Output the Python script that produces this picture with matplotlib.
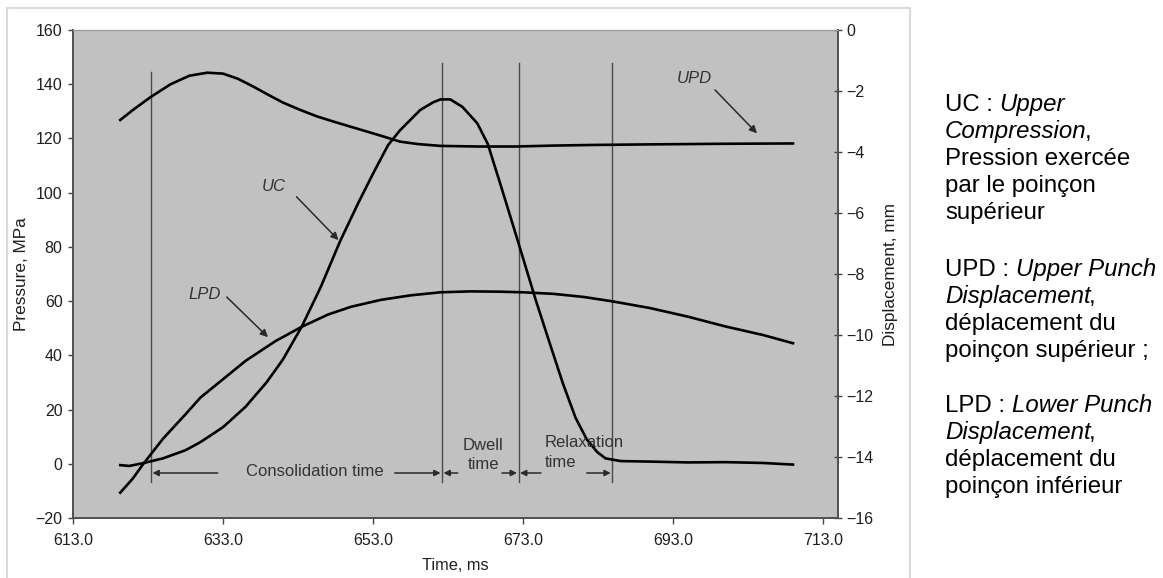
import matplotlib
matplotlib.use("Agg")
import matplotlib.pyplot as plt
from matplotlib.patches import Rectangle

plt.rcParams['font.family'] = ['Liberation Sans', 'DejaVu Sans']

# --- data ---
# UC : upper compression (pressure, MPa, left axis)
uc_time = [619.3, 620.5, 622.3, 625, 628, 630, 633, 636, 638.8, 641, 643.5, 646,
           648.6, 651, 653, 655, 656.6, 659.3, 661, 662, 663.3, 664.9, 666.9,
           668.3, 670, 672, 674.7, 676.5, 678.3, 680, 681.5, 682.9, 684, 686,
           690, 695, 700, 705, 709]
uc_pressure = [-0.5, -0.8, 0.2, 2.0, 5.0, 8.0, 13.5, 21, 30, 38.5, 50.6, 65,
               82, 96, 107, 117.5, 123, 130.5, 133.3, 134.4, 134.4, 131.7, 125.6,
               118, 103, 85, 60.4, 45, 29.8, 17, 9, 4.3, 2.0, 1.0,
               0.8, 0.5, 0.6, 0.3, -0.3]

# LPD : lower punch displacement (mm, right axis)
lpd_time = [619.3, 621, 622.3, 625, 628, 630, 633, 636, 640, 643.5, 647, 650,
            654, 658, 662, 666, 670, 673, 677, 681, 685, 690, 695, 700, 705, 709]
lpd_disp = [-15.17, -14.7, -14.25, -13.4, -12.6, -12.05, -11.45, -10.85, -10.2,
            -9.73, -9.33, -9.08, -8.85, -8.7, -8.6, -8.57, -8.58, -8.6, -8.65,
            -8.75, -8.9, -9.12, -9.4, -9.72, -10.0, -10.27]

# UPD : upper punch displacement (mm, right axis)
upd_time = [619.3, 621, 623.4, 626, 628.5, 630.9, 633, 635, 637, 639, 641, 643.3,
            645.5, 647.7, 650, 652.2, 654.5, 656.6, 659, 662, 667, 672, 677, 682,
            690, 700, 709]
upd_disp = [-2.95, -2.62, -2.19, -1.78, -1.5, -1.40, -1.43, -1.6, -1.85, -2.12,
            -2.38, -2.62, -2.83, -3.0, -3.17, -3.33, -3.5, -3.66, -3.74, -3.8,
            -3.82, -3.82, -3.79, -3.77, -3.75, -3.73, -3.72]

# phase boundaries (ms)
boundaries = [623.4, 662.2, 672.4, 684.9]
boundary_tops = [144.5, 147.8, 147.8, 147.8]

x_ticks = [613, 633, 653, 673, 693, 713]
p_ticks = list(range(-20, 161, 20))
d_ticks = list(range(-16, 1, 2))

legend_lines = [
    [("UC : ", "normal"), ("Upper", "italic")],
    [("Compression", "italic"), (",", "normal")],
    [("Pression exercée", "normal")],
    [("par le poinçon", "normal")],
    [("supérieur", "normal")],
    [("UPD : ", "normal"), ("Upper Punch", "italic")],
    [("Displacement", "italic"), (",", "normal")],
    [("déplacement du", "normal")],
    [("poinçon supérieur ;", "normal")],
    [("LPD : ", "normal"), ("Lower Punch", "italic")],
    [("Displacement", "italic"), (",", "normal")],
    [("déplacement du", "normal")],
    [("poinçon inférieur", "normal")],
]
legend_baselines = [111, 138, 165, 192, 219, 276, 303, 330, 357, 412, 439, 466, 493]

W, H = 1163, 578
fig = plt.figure(figsize=(W / 100, H / 100), dpi=100)
fig.patch.set_facecolor('white')

# light frame of the original scanned picture
fig.add_artist(Rectangle((7 / W, -0.02), (910 - 7) / W, 1.02 - 8 / H,
                         transform=fig.transFigure, fill=False,
                         edgecolor='#dadada', lw=1.5))

ax = fig.add_axes([73 / W, 60 / H, 765 / W, 488 / H])
ax.set_facecolor('#c1c1c1')
ax2 = ax.twinx()

ink = '#1e1e1e'
grey = '#333333'

ax.plot(uc_time, uc_pressure, color='black', lw=1.9, zorder=3)
ax2.plot(lpd_time, lpd_disp, color='black', lw=1.9)
ax2.plot(upd_time, upd_disp, color='black', lw=1.9)

for xb, top in zip(boundaries, boundary_tops):
    ax.plot([xb, xb], [-6.7, top], color='#4a4a4a', lw=1.0, zorder=2)

ax.set_xlim(613, 715)
ax.set_ylim(-20, 160)
ax2.set_ylim(-16, 0)
ax.set_xticks(x_ticks)
ax.set_xticklabels([f"{v:.1f}" for v in x_ticks])
ax.set_yticks(p_ticks)
ax2.set_yticks(d_ticks)

ax.tick_params(axis='x', direction='out', length=4, width=1, pad=7,
               labelsize=11.5, colors='#444444', labelcolor=ink)
ax.tick_params(axis='y', direction='out', length=3.5, width=1, pad=4,
               labelsize=11.5, colors='#444444', labelcolor=ink)
ax2.tick_params(axis='y', direction='inout', length=6, width=1, pad=3,
                labelsize=11.5, colors='#444444', labelcolor=ink)

for a in (ax, ax2):
    for side in ('left', 'bottom', 'right'):
        a.spines[side].set_color('#505050')
        a.spines[side].set_linewidth(1.2)
    a.spines['top'].set_color('#9a9a9a')
    a.spines['top'].set_linewidth(0.8)

ax.set_ylabel("Pressure, MPa", fontsize=12.4, color=ink)
ax.yaxis.label.set_va('center')
ax.yaxis.set_label_coords((22 - 73) / 765, 0.5)
ax2.set_ylabel("Displacement, mm", fontsize=12.4, color=ink)
ax2.yaxis.label.set_va('center')
ax2.yaxis.set_label_coords((890 - 73) / 765, 0.5)
ax.set_xlabel("Time, ms", fontsize=11.8, color=ink)
ax.xaxis.label.set_va('center')
ax.xaxis.set_label_coords((455 - 73) / 765, (518 - 565) / 488)

# curve labels
arrow_kw = dict(arrowstyle='-|>', color='#2a2a2a', lw=1.1, mutation_scale=11,
                shrinkA=0, shrinkB=0)
ax.text(639.8, 102.2, "UC", style='italic', fontsize=12, color=grey,
        ha='center', va='center')
ax.annotate("", xy=(648.4, 82.5), xytext=(642.8, 98.5), arrowprops=arrow_kw)
ax.text(630.5, 62.6, "LPD", style='italic', fontsize=12, color=grey,
        ha='center', va='center')
ax.annotate("", xy=(639.0, 46.7), xytext=(633.5, 61.5), arrowprops=arrow_kw)
ax.text(695.8, 142.2, "UPD", style='italic', fontsize=12, color=grey,
        ha='center', va='center')
ax.annotate("", xy=(704.2, 121.9), xytext=(698.6, 137.9), arrowprops=arrow_kw)

# phase annotations
y_arr = -3.4
span_kw = dict(arrowstyle='-|>', color='#2a2a2a', lw=1.1, mutation_scale=9,
               shrinkA=0, shrinkB=0)
ax.annotate("", xy=(623.6, y_arr), xytext=(632.3, y_arr), arrowprops=span_kw)
ax.annotate("", xy=(662.0, y_arr), xytext=(655.9, y_arr), arrowprops=span_kw)
ax.annotate("", xy=(662.4, y_arr), xytext=(664.3, y_arr), arrowprops=span_kw)
ax.annotate("", xy=(672.2, y_arr), xytext=(670.2, y_arr), arrowprops=span_kw)
ax.annotate("", xy=(672.6, y_arr), xytext=(675.4, y_arr), arrowprops=span_kw)
ax.annotate("", xy=(684.7, y_arr), xytext=(681.5, y_arr), arrowprops=span_kw)

ax.text(645.3, -2.9, "Consolidation time", fontsize=12, color=grey,
        ha='center', va='center')
ax.text(667.6, 6.9, "Dwell", fontsize=12, color=grey, ha='center', va='center')
ax.text(667.7, -0.2, "time", fontsize=12, color=grey, ha='center', va='center')
ax.text(675.9, 7.8, "Relaxation", fontsize=12, color=grey, ha='left', va='center')
ax.text(675.9, 0.4, "time", fontsize=12, color=grey, ha='left', va='center')

# explanatory text on the right
renderer = fig.canvas.get_renderer()
side_size = 17.3


def text_width(s, style):
    t = fig.text(0, 0, s, fontsize=side_size, style=style)
    w = t.get_window_extent(renderer).width
    t.remove()
    return w


for parts, base in zip(legend_lines, legend_baselines):
    x = 945
    prev_style = None
    for s, style in parts:
        if prev_style == 'italic' and style == 'normal':
            x -= 2  # italic overhang, keep the comma close
        fig.text(x / W, 1 - base / H, s, fontsize=side_size, style=style,
                 color='black', ha='left', va='baseline')
        # advance width: measure against a following glyph
        x += text_width(s + 'n', style) - text_width('n', style)
        prev_style = style

fig.savefig('out.png', dpi=100)
